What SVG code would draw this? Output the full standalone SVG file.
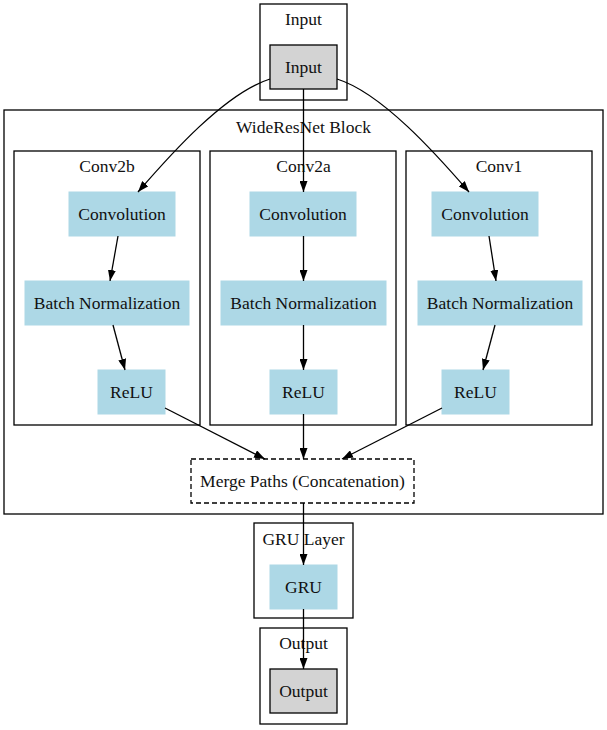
<svg xmlns="http://www.w3.org/2000/svg" width="607" height="730" viewBox="0 0 607 730">
<style>
.cl{fill:none;stroke:#000;stroke-width:1.3}
.bl{fill:#add8e6;stroke:#add8e6;stroke-width:1}
.gr{fill:#d3d3d3;stroke:#000;stroke-width:1.3}
.mg{fill:#fff;stroke:#000;stroke-width:1.3;stroke-dasharray:5,3}
text{font-family:"Liberation Serif","Times New Roman",serif;font-size:17.5px;text-anchor:middle;fill:#111}
.e{fill:none;stroke:#000;stroke-width:1.3;marker-end:url(#ah)}
</style>
<defs>
<marker id="ah" viewBox="0 0 11 8" refX="11" refY="4" markerWidth="11" markerHeight="8" orient="auto" markerUnits="userSpaceOnUse"><path d="M0,0 L11,4 L0,8 z" fill="#000"/></marker>
</defs>
<rect width="607" height="730" fill="#fff"/>
<g id="clusters">
<g id="cluster_input"><rect class="cl" x="260" y="4" width="87" height="96"/><text x="303.5" y="25">Input</text></g>
<g id="cluster_wrn"><rect class="cl" x="4" y="110" width="599" height="404"/><text x="303.5" y="133">WideResNet Block</text></g>
<g id="cluster_conv2b"><rect class="cl" x="14" y="151" width="186" height="274"/><text x="107" y="172">Conv2b</text></g>
<g id="cluster_conv2a"><rect class="cl" x="210" y="151" width="186" height="274"/><text x="303.5" y="172">Conv2a</text></g>
<g id="cluster_conv1"><rect class="cl" x="406" y="151" width="186" height="274"/><text x="499" y="172">Conv1</text></g>
<g id="cluster_gru"><rect class="cl" x="254" y="523" width="99" height="95"/><text x="303.5" y="545">GRU Layer</text></g>
<g id="cluster_output"><rect class="cl" x="260" y="628" width="87" height="96"/><text x="303.5" y="649">Output</text></g>
</g>
<g id="node_input"><rect class="gr" x="270" y="45" width="67" height="44"/><text x="303.5" y="73">Input</text></g>
<g id="node_conv2b_conv"><rect class="bl" x="69" y="192" width="106" height="44"/><text x="122" y="220">Convolution</text></g>
<g id="node_conv2b_bn"><rect class="bl" x="25" y="281" width="164" height="44"/><text x="107" y="309">Batch Normalization</text></g>
<g id="node_conv2b_relu"><rect class="bl" x="98" y="370" width="67" height="44"/><text x="131.5" y="398">ReLU</text></g>
<g id="node_conv2a_conv"><rect class="bl" x="250" y="192" width="106" height="44"/><text x="303" y="220">Convolution</text></g>
<g id="node_conv2a_bn"><rect class="bl" x="221" y="281" width="165" height="44"/><text x="303.5" y="309">Batch Normalization</text></g>
<g id="node_conv2a_relu"><rect class="bl" x="270" y="370" width="67" height="44"/><text x="303.5" y="398">ReLU</text></g>
<g id="node_conv1_conv"><rect class="bl" x="432" y="192" width="106" height="44"/><text x="485" y="220">Convolution</text></g>
<g id="node_conv1_bn"><rect class="bl" x="418" y="281" width="164" height="44"/><text x="500" y="309">Batch Normalization</text></g>
<g id="node_conv1_relu"><rect class="bl" x="442" y="370" width="67" height="44"/><text x="475.5" y="398">ReLU</text></g>
<g id="node_merge"><rect class="mg" x="191" y="459" width="223" height="44"/><text x="302.5" y="487">Merge Paths (Concatenation)</text></g>
<g id="node_gru"><rect class="bl" x="270" y="565" width="67" height="44"/><text x="303.5" y="593">GRU</text></g>
<g id="node_output"><rect class="gr" x="270" y="669" width="67" height="44"/><text x="303.5" y="697">Output</text></g>
<g id="edges">
<path class="e" d="M270,79 C225,93 170,155 138,192"/>
<path class="e" d="M303.5,89 L303.5,192"/>
<path class="e" d="M337,79 C382,93 437,155 469,192"/>
<path class="e" d="M118,236 L110,281"/>
<path class="e" d="M303.5,236 L303.5,281"/>
<path class="e" d="M489,236 L496,281"/>
<path class="e" d="M113,325 L125,370"/>
<path class="e" d="M303.5,325 L303.5,370"/>
<path class="e" d="M495,325 L483,370"/>
<path class="e" d="M165,408 L265,459"/>
<path class="e" d="M303.5,414 L303.5,459"/>
<path class="e" d="M442,408 L342,459"/>
<path class="e" d="M303.5,503 L303.5,565"/>
<path class="e" d="M303.5,609 L303.5,669"/>
</g>
</svg>
